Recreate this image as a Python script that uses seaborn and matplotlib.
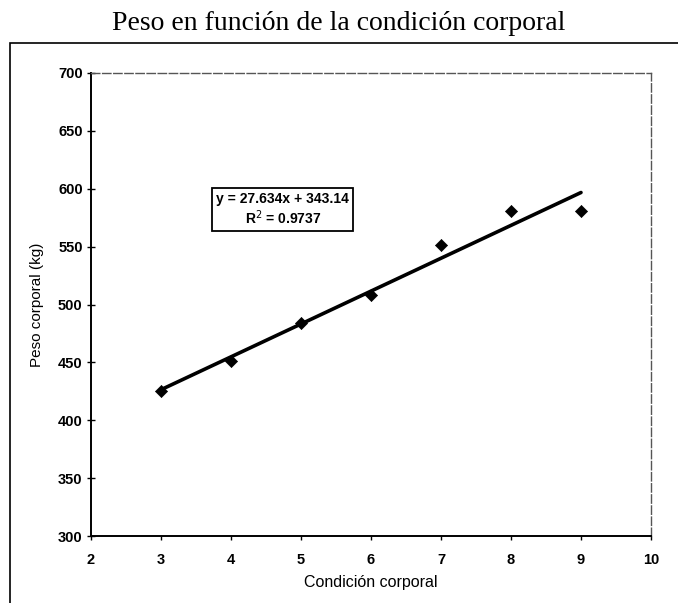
import matplotlib
matplotlib.use("Agg")
import matplotlib.pyplot as plt
import seaborn as sns
import pandas as pd
from matplotlib.patches import Rectangle

condicion = [3, 4, 5, 6, 7, 8, 9]
peso = [425, 451, 484, 508, 551, 581, 581]
x_ticks = [2, 3, 4, 5, 6, 7, 8, 9, 10]
y_ticks = [300, 350, 400, 450, 500, 550, 600, 650, 700]
titulo = "Peso en función de la condición corporal"
xlabel = "Condición corporal"
ylabel = "Peso corporal (kg)"
ecuacion = "y = 27.634x + 343.14\nR$^2$ = 0.9737"

df = pd.DataFrame({"x": condicion, "y": peso})

sns.set_style("white")
plt.rcParams["font.family"] = ["Liberation Sans", "DejaVu Sans"]
plt.rcParams["text.color"] = "black"
plt.rcParams["axes.labelcolor"] = "black"
plt.rcParams["xtick.color"] = "black"
plt.rcParams["ytick.color"] = "black"

fig = plt.figure(figsize=(6.78, 6.03), dpi=100)
ax = fig.add_axes([91/678, 1-536/603, (651-91)/678, (536-73)/603])

sns.regplot(data=df, x="x", y="y", ax=ax, ci=None, scatter=False,
            line_kws=dict(color="black", lw=2.6))
sns.scatterplot(data=df, x="x", y="y", ax=ax, marker="D", s=38,
                color="black", edgecolor="black", zorder=5)

ax.set_xlim(2, 10)
ax.set_ylim(300, 700)
ax.set_xticks(x_ticks)
ax.set_yticks(y_ticks)
ax.set_xticklabels([str(t) for t in x_ticks], fontsize=10.5, fontweight="bold")
ax.set_yticklabels([str(t) for t in y_ticks], fontsize=10.5, fontweight="bold")
ax.tick_params(axis="x", direction="out", length=3, width=1, colors="black",
               bottom=True, pad=9)
ax.tick_params(axis="y", direction="inout", length=6, width=1, colors="black",
               left=True, pad=3)
ax.set_xlabel(xlabel, fontsize=11.5, labelpad=6, color="black")
ax.set_ylabel(ylabel, fontsize=11, labelpad=10, color="black")

for s in ["left", "bottom"]:
    ax.spines[s].set_color("black")
    ax.spines[s].set_linewidth(1.4)
for s in ["top", "right"]:
    ax.spines[s].set_color("#555555")
    ax.spines[s].set_linewidth(1.0)
    ax.spines[s].set_linestyle((0, (6, 2)))

ax.text(4.74, 582, ecuacion, ha="center", va="center", fontsize=10,
        fontweight="bold", linespacing=1.15, color="black",
        bbox=dict(boxstyle="square,pad=0.28", facecolor="white",
                  edgecolor="black", lw=1.3))

fig.text(0.5, 1-24/603, titulo, ha="center", va="center", fontsize=20,
         color="black", family=["Liberation Serif", "DejaVu Serif"])

fig.patches.append(Rectangle((10/678, -0.1), 1.0, 1-43/603+0.1,
                             transform=fig.transFigure, fill=False,
                             edgecolor="black", lw=1.2))

fig.savefig("out.png", dpi=100)
